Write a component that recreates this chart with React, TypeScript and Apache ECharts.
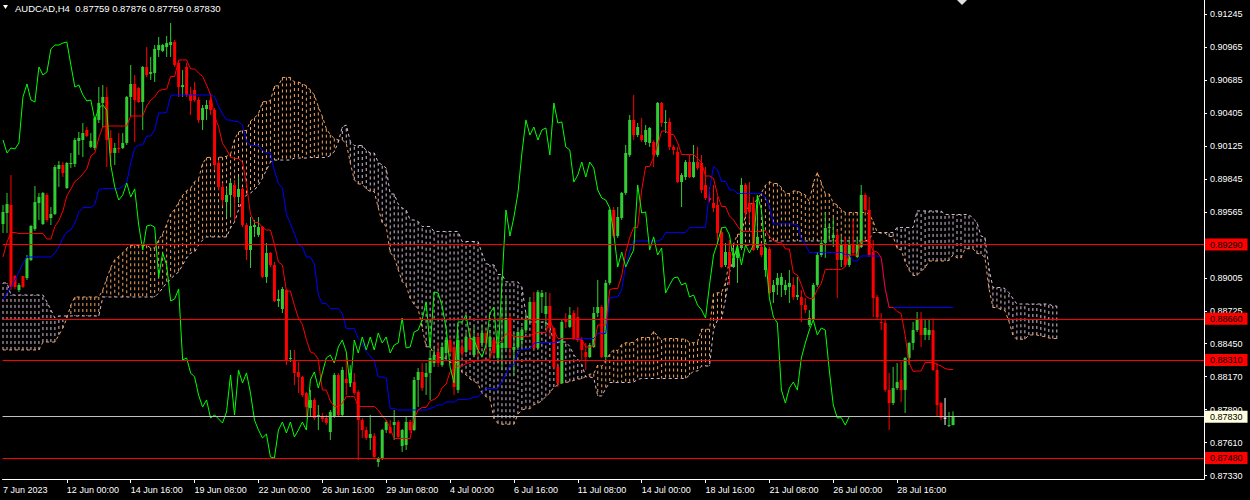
import React, { useEffect, useRef } from "react";
import * as echarts from "echarts";

// AUDCAD H4 candles, oldest first (bar index 0 = 7 Jun 2023 16:00)
const opens = [
  0.89464, 0.89557, 0.89625, 0.89023, 0.88904, 0.89023, 0.89006, 0.89159, 0.89421, 0.89642,
  0.89464, 0.8971, 0.89515, 0.89549, 0.8993, 0.89964, 0.89769, 0.89973, 0.89973, 0.90168,
  0.90176, 0.90261, 0.90117, 0.90108, 0.90346, 0.9049, 0.90541, 0.90193, 0.90066, 0.90108,
  0.90108, 0.90151, 0.90541, 0.90651, 0.90617, 0.90498, 0.90795, 0.90736, 0.90744, 0.90939,
  0.90931, 0.90964, 0.90981, 0.91007, 0.90829, 0.90625, 0.90795, 0.90566, 0.906, 0.90515,
  0.90346, 0.90439, 0.90515, 0.9043, 0.89981, 0.89778, 0.8965, 0.8971, 0.89795, 0.89693,
  0.89761, 0.89455, 0.89243, 0.89438, 0.89371, 0.89438, 0.89015, 0.89218, 0.89116, 0.88811,
  0.88743, 0.88904, 0.88319, 0.88311, 0.88209, 0.88167, 0.88031, 0.87904, 0.87972, 0.87828,
  0.87828, 0.87819, 0.877, 0.87828, 0.88184, 0.87845, 0.8815, 0.88116, 0.88124, 0.8804,
  0.87802, 0.87717, 0.8765, 0.87667, 0.87446, 0.87471, 0.87717, 0.87743, 0.8776, 0.87785,
  0.87582, 0.8759, 0.87785, 0.87717, 0.88141, 0.88209, 0.88167, 0.88201, 0.88285, 0.88379,
  0.88268, 0.8837, 0.8848, 0.88421, 0.88057, 0.88421, 0.88379, 0.88497, 0.88353, 0.88506,
  0.88455, 0.8854, 0.88421, 0.8848, 0.88328, 0.88413, 0.88413, 0.88667, 0.88396, 0.88421,
  0.8848, 0.88565, 0.8865, 0.88803, 0.88413, 0.88845, 0.88701, 0.88769, 0.88582, 0.88252,
  0.88116, 0.8865, 0.88591, 0.88709, 0.88675, 0.8848, 0.88379, 0.88336, 0.88421, 0.88709,
  0.8876, 0.88336, 0.88964, 0.89583, 0.89362, 0.89515, 0.89727, 0.90049, 0.90346, 0.90218,
  0.90218, 0.90159, 0.90151, 0.90159, 0.90049, 0.9049, 0.9032, 0.90329, 0.90117, 0.90074,
  0.8982, 0.89862, 0.89989, 0.89862, 0.89989, 0.89981, 0.89795, 0.89684, 0.89642, 0.89625,
  0.89396, 0.89116, 0.89226, 0.89099, 0.89176, 0.8926, 0.89795, 0.89642, 0.89642, 0.8926,
  0.89269, 0.89074, 0.89252, 0.88887, 0.88947, 0.88947, 0.88904, 0.8893, 0.88947, 0.88845,
  0.88845, 0.88777, 0.88608, 0.8865, 0.88947, 0.89201, 0.89303, 0.8943, 0.89345, 0.89371,
  0.89159, 0.89286, 0.89116, 0.89286, 0.89184, 0.89269, 0.8971, 0.89583, 0.89226, 0.88845,
  0.88633, 0.88625, 0.88057, 0.87946, 0.88073, 0.88141, 0.88057, 0.88328, 0.88455, 0.88565,
  0.8865, 0.88523, 0.88523, 0.88565, 0.88226, 0.87946, 0.87822, 0.87752, 0.87759,
];
const highs = [
  0.89625, 0.89727, 0.89879, 0.89031, 0.88964, 0.89023, 0.89201, 0.89455, 0.89786, 0.89727,
  0.89735, 0.89727, 0.89608, 0.89964, 0.89998, 0.89989, 0.89989, 0.90066, 0.90193, 0.90244,
  0.9032, 0.90286, 0.90235, 0.90371, 0.90625, 0.90642, 0.90625, 0.90261, 0.90151, 0.90235,
  0.90235, 0.90549, 0.90812, 0.90727, 0.90625, 0.90803, 0.90964, 0.9088, 0.90981, 0.91049,
  0.9099, 0.91058, 0.91168, 0.91024, 0.90854, 0.90769, 0.90829, 0.90625, 0.90668, 0.90541,
  0.90473, 0.90515, 0.90541, 0.90447, 0.90006, 0.89811, 0.89769, 0.89837, 0.89837, 0.89862,
  0.89778, 0.89472, 0.89523, 0.89498, 0.89523, 0.89447, 0.89303, 0.89226, 0.89142, 0.88904,
  0.8893, 0.88913, 0.88396, 0.88396, 0.88294, 0.88175, 0.8804, 0.88057, 0.87989, 0.87929,
  0.87862, 0.87845, 0.87887, 0.88201, 0.88201, 0.88252, 0.8837, 0.88268, 0.88201, 0.88057,
  0.87819, 0.87743, 0.87845, 0.87692, 0.87488, 0.87726, 0.87802, 0.87802, 0.87887, 0.87802,
  0.87726, 0.87828, 0.87802, 0.88167, 0.88243, 0.88285, 0.88285, 0.88396, 0.88421, 0.88455,
  0.88455, 0.88506, 0.88506, 0.88455, 0.88548, 0.8848, 0.8854, 0.88565, 0.88591, 0.8854,
  0.88608, 0.88565, 0.88565, 0.88506, 0.8854, 0.88735, 0.88836, 0.88709, 0.8854, 0.88565,
  0.88591, 0.88709, 0.88845, 0.88887, 0.88904, 0.88904, 0.88887, 0.88879, 0.88591, 0.88285,
  0.8865, 0.88709, 0.8876, 0.88735, 0.8876, 0.88506, 0.88455, 0.88455, 0.8876, 0.88989,
  0.88777, 0.88989, 0.89591, 0.89608, 0.89608, 0.89735, 0.90134, 0.90388, 0.90558, 0.9032,
  0.90363, 0.90303, 0.90286, 0.90176, 0.90498, 0.90498, 0.9043, 0.90363, 0.90134, 0.90117,
  0.89896, 0.90006, 0.90049, 0.90134, 0.90117, 0.90049, 0.89947, 0.89777, 0.89795, 0.89693,
  0.89438, 0.89303, 0.89328, 0.89269, 0.89269, 0.89854, 0.89811, 0.8982, 0.89693, 0.8971,
  0.89303, 0.89269, 0.89269, 0.88989, 0.89048, 0.89048, 0.88989, 0.89074, 0.89015, 0.89015,
  0.88904, 0.88836, 0.88735, 0.88964, 0.89226, 0.89328, 0.89566, 0.89472, 0.89515, 0.89413,
  0.89354, 0.89354, 0.89328, 0.89498, 0.89354, 0.89795, 0.89727, 0.89693, 0.89328, 0.88862,
  0.88709, 0.8865, 0.88201, 0.88252, 0.88285, 0.88294, 0.88336, 0.88463, 0.88633, 0.88718,
  0.88718, 0.8865, 0.8865, 0.88667, 0.88285, 0.87955, 0.87989, 0.8787, 0.87876,
];
const lows = [
  0.89388, 0.89388, 0.88904, 0.88913, 0.88887, 0.88921, 0.88989, 0.8915, 0.89405, 0.89498,
  0.89455, 0.89481, 0.89455, 0.8954, 0.89778, 0.89862, 0.89761, 0.89939, 0.89947, 0.90049,
  0.90032, 0.90201, 0.90108, 0.90091, 0.9032, 0.90278, 0.89947, 0.89947, 0.89964, 0.90066,
  0.901, 0.90134, 0.90371, 0.90159, 0.9049, 0.90261, 0.9071, 0.90685, 0.90668, 0.9088,
  0.90922, 0.9088, 0.9088, 0.90795, 0.90541, 0.90541, 0.90541, 0.90388, 0.90498, 0.9032,
  0.90261, 0.90346, 0.90388, 0.89922, 0.89752, 0.89625, 0.89523, 0.89523, 0.89498, 0.89642,
  0.89438, 0.89159, 0.89091, 0.89354, 0.89354, 0.89006, 0.88964, 0.89099, 0.88803, 0.8876,
  0.88709, 0.88268, 0.88294, 0.88099, 0.88031, 0.87997, 0.87828, 0.87828, 0.87802, 0.87717,
  0.87785, 0.8776, 0.87633, 0.8782, 0.87828, 0.87828, 0.88014, 0.88107, 0.88014, 0.87463,
  0.8765, 0.87633, 0.87548, 0.8748, 0.87404, 0.87463, 0.87692, 0.87683, 0.87633, 0.8765,
  0.87531, 0.87548, 0.87692, 0.87709, 0.87912, 0.88048, 0.88014, 0.87972, 0.88252, 0.88252,
  0.88252, 0.88311, 0.88353, 0.88014, 0.88031, 0.88336, 0.8837, 0.8837, 0.88336, 0.88336,
  0.88421, 0.8837, 0.88328, 0.88336, 0.88285, 0.88226, 0.88396, 0.88336, 0.88184, 0.88396,
  0.88421, 0.8854, 0.88625, 0.88396, 0.88396, 0.88709, 0.88591, 0.88506, 0.88226, 0.88082,
  0.88107, 0.88582, 0.88582, 0.8848, 0.88463, 0.88311, 0.88226, 0.88328, 0.88413, 0.88675,
  0.88328, 0.88311, 0.88947, 0.89345, 0.89345, 0.89498, 0.8971, 0.90032, 0.90176, 0.90201,
  0.90159, 0.90134, 0.90117, 0.89947, 0.90032, 0.90286, 0.90235, 0.90091, 0.90049, 0.89811,
  0.89608, 0.89837, 0.89854, 0.89854, 0.89922, 0.89727, 0.89667, 0.8965, 0.89566, 0.89286,
  0.89091, 0.89099, 0.88947, 0.89091, 0.88964, 0.89243, 0.89523, 0.89472, 0.89235, 0.89243,
  0.89184, 0.89015, 0.88862, 0.88794, 0.88862, 0.88845, 0.88862, 0.88794, 0.8882, 0.8882,
  0.88633, 0.88709, 0.88591, 0.88641, 0.8893, 0.89184, 0.89176, 0.89328, 0.89269, 0.88836,
  0.89099, 0.89099, 0.89099, 0.89201, 0.89176, 0.8926, 0.89557, 0.89184, 0.88675, 0.88658,
  0.88565, 0.8804, 0.87717, 0.87929, 0.88057, 0.87955, 0.87862, 0.88268, 0.88396, 0.88548,
  0.88421, 0.8848, 0.8848, 0.88218, 0.87828, 0.87802, 0.8776, 0.87742, 0.87759,
];
const closes = [
  0.89566, 0.89633, 0.8893, 0.8893, 0.88947, 0.8893, 0.89176, 0.89447, 0.8965, 0.89693,
  0.89727, 0.89498, 0.89549, 0.89947, 0.89964, 0.89896, 0.89981, 0.89981, 0.90176, 0.90193,
  0.90235, 0.9021, 0.90168, 0.90363, 0.9049, 0.90541, 0.90176, 0.90066, 0.90108, 0.901,
  0.90151, 0.90541, 0.90651, 0.90515, 0.90498, 0.90795, 0.90727, 0.90752, 0.90948, 0.90981,
  0.90981, 0.90998, 0.91007, 0.90812, 0.90625, 0.90642, 0.90558, 0.90507, 0.90515, 0.90346,
  0.90447, 0.90473, 0.9043, 0.89964, 0.89778, 0.89667, 0.8971, 0.89811, 0.89693, 0.89761,
  0.89455, 0.89243, 0.89447, 0.89455, 0.89438, 0.89015, 0.89218, 0.89116, 0.88811, 0.88828,
  0.88913, 0.88311, 0.88328, 0.88201, 0.88167, 0.88014, 0.87912, 0.87972, 0.87819, 0.87845,
  0.87811, 0.87777, 0.8787, 0.88184, 0.87845, 0.88226, 0.88116, 0.88201, 0.88031, 0.87802,
  0.87717, 0.8765, 0.87683, 0.87488, 0.8748, 0.87717, 0.87785, 0.87692, 0.87785, 0.87658,
  0.87717, 0.87785, 0.87717, 0.88141, 0.88209, 0.88073, 0.88201, 0.88328, 0.88353, 0.88285,
  0.88421, 0.8848, 0.88379, 0.88082, 0.8848, 0.8837, 0.88506, 0.88396, 0.88506, 0.88396,
  0.8854, 0.88455, 0.88506, 0.8837, 0.88438, 0.88455, 0.88667, 0.88413, 0.88421, 0.88548,
  0.88565, 0.8865, 0.88803, 0.88413, 0.88887, 0.88879, 0.88769, 0.88582, 0.88252, 0.88116,
  0.88633, 0.88633, 0.88692, 0.88497, 0.8848, 0.88396, 0.88336, 0.88438, 0.88709, 0.8876,
  0.88336, 0.88964, 0.89583, 0.89362, 0.89523, 0.89727, 0.90066, 0.90346, 0.90218, 0.90286,
  0.90176, 0.90261, 0.90278, 0.90049, 0.9049, 0.9032, 0.90329, 0.90117, 0.90091, 0.8982,
  0.89879, 0.89989, 0.89862, 0.89989, 0.89939, 0.89752, 0.89684, 0.89667, 0.896, 0.89388,
  0.89099, 0.89226, 0.89099, 0.89176, 0.89243, 0.89795, 0.89557, 0.89566, 0.89243, 0.89354,
  0.89201, 0.8926, 0.88879, 0.88947, 0.89006, 0.89015, 0.88947, 0.88964, 0.88845, 0.88862,
  0.88777, 0.88735, 0.88667, 0.88947, 0.89201, 0.89303, 0.8943, 0.89438, 0.89371, 0.89159,
  0.89286, 0.89116, 0.89286, 0.89218, 0.89286, 0.8971, 0.89583, 0.89201, 0.88836, 0.88675,
  0.88625, 0.88057, 0.87946, 0.88073, 0.88124, 0.88057, 0.88328, 0.88455, 0.88565, 0.8865,
  0.88523, 0.88582, 0.88565, 0.88226, 0.87929, 0.87819, 0.87822, 0.87759, 0.8783,
];

// Indicator values at the left edge, where the 9/26/52 windows reach back before bar 0
const tenkanHead = [0.89184, 0.89311];
const kijunHead = [
  0.8882, 0.88879, 0.8893, 0.88989, 0.89057, 0.89133, 0.89184, 0.89184, 0.89184, 0.89184,
  0.89184, 0.89184, 0.89184, 0.89218, 0.89269, 0.89345, 0.89396, 0.89413, 0.89472,
];
const senkouAHead = [
  0.88396, 0.88396, 0.88396, 0.88396, 0.88396, 0.88396, 0.88396, 0.88396, 0.88396, 0.88396,
  0.88463, 0.88463, 0.88463, 0.88463, 0.88523, 0.88582, 0.88667, 0.88777, 0.88845, 0.88845,
  0.88845, 0.88845, 0.88845, 0.88845, 0.88845, 0.88904,
];
const senkouBHead = [
  0.88964, 0.88964, 0.88862, 0.88862, 0.88862, 0.88862, 0.88862, 0.88862, 0.88862, 0.88862,
  0.88862, 0.88803, 0.88735, 0.88667, 0.88684, 0.88684, 0.88684, 0.88684, 0.88684, 0.88684,
  0.88684, 0.88684, 0.88684, 0.88684, 0.88684, 0.88845, 0.88845, 0.88845, 0.88845, 0.88845,
  0.88845, 0.88845, 0.88845, 0.88845, 0.88845, 0.88845, 0.88845, 0.88845, 0.88845, 0.88879,
  0.88921, 0.88964, 0.88998, 0.89031, 0.89057, 0.89116, 0.89176, 0.89218, 0.89226, 0.89286,
  0.89328, 0.89354, 0.89354, 0.89354, 0.89354, 0.89354, 0.89354, 0.8943, 0.89481, 0.89583,
  0.89667, 0.8971, 0.89727, 0.89752, 0.89795, 0.89854, 0.89922, 0.89989, 0.90006, 0.90006,
  0.90006, 0.90006, 0.90006, 0.90023, 0.90023, 0.90023, 0.90023,
];

const timeTicks = [0, 16, 32, 48, 64, 80, 96, 112, 128, 144, 160, 176, 192, 208, 224];
const timeLabels = [
  "7 Jun 2023", "12 Jun 00:00", "14 Jun 16:00", "19 Jun 08:00", "22 Jun 00:00",
  "26 Jun 16:00", "29 Jun 08:00", "4 Jul 00:00", "6 Jul 16:00", "11 Jul 08:00",
  "14 Jul 00:00", "18 Jul 16:00", "21 Jul 08:00", "26 Jul 00:00", "28 Jul 16:00",
];
const priceTicks = [
  0.91245, 0.90965, 0.90685, 0.90405, 0.90125, 0.89845, 0.89565, 0.89005, 0.88725, 0.8845,
  0.8817, 0.8789, 0.8761, 0.8733,
];
const priceTickLabels = [
  "0.91245", "0.90965", "0.90685", "0.90405", "0.90125", "0.89845", "0.89565", "0.89005",
  "0.88725", "0.88450", "0.88170", "0.87890", "0.87610", "0.87330",
];
const levelLines = [0.8929, 0.8866, 0.8831, 0.8748];
const bidPrice = 0.8783;
const symbolTitle = "AUDCAD,H4";

const BULL = "#32CD32";
const BEAR = "#FF0000";
const DOJI = "#FFFFFF";
const TENKAN = "#FF0000";
const KIJUN = "#0000FF";
const CHIKOU = "#00FF00";
const SPAN_A = "#F4A460";
const SPAN_B = "#D8BFD8";
const FONT = "'Liberation Sans', Arial, sans-serif";

const PRICE_MIN = 0.873019;
const PRICE_MAX = 0.913629;
const SLOT_MIN = -0.125;
const SLOT_MAX = 300.875;
const SHIFT = 26;

function rangeMid(from: number, to: number) {
  let hh = -Infinity;
  let ll = Infinity;
  for (let i = Math.max(0, from); i <= to; i++) {
    if (highs[i] > hh) hh = highs[i];
    if (lows[i] < ll) ll = lows[i];
  }
  return (hh + ll) / 2;
}

function buildIchimoku() {
  const n = closes.length;
  const tenkan: number[] = [];
  const kijun: number[] = [];
  for (let k = 0; k < n; k++) {
    tenkan.push(k < tenkanHead.length ? tenkanHead[k] : rangeMid(k - 8, k));
    kijun.push(k < kijunHead.length ? kijunHead[k] : rangeMid(k - 25, k));
  }
  const spanA: number[] = [];
  const spanB: number[] = [];
  for (let s = 0; s < n + SHIFT; s++) {
    spanA.push(s < senkouAHead.length ? senkouAHead[s] : (tenkan[s - SHIFT] + kijun[s - SHIFT]) / 2);
    spanB.push(s < senkouBHead.length ? senkouBHead[s] : rangeMid(s - SHIFT - 51, s - SHIFT));
  }
  const chikou: number[][] = [];
  for (let j = 0; j + SHIFT < n; j++) chikou.push([j, closes[j + SHIFT]]);
  return { tenkan, kijun, spanA, spanB, chikou };
}

function buildOption() {
  const n = closes.length;
  const ichi = buildIchimoku();
  const candleData = closes.map((c, k) => [k, opens[k], highs[k], lows[k], c]);
  const cloudData = ichi.spanA.map((a, s) => [s, a, ichi.spanB[s]]);
  const title = `${symbolTitle}  ${opens[n - 1].toFixed(5)} ${highs[n - 1].toFixed(5)} ${lows[n - 1].toFixed(5)} ${closes[n - 1].toFixed(5)}`;

  const lineSeries = (name: string, data: number[][], color: string, z: number, dash?: number[]) => ({
    name,
    type: "line",
    data,
    z,
    silent: true,
    showSymbol: false,
    symbol: "none",
    clip: true,
    lineStyle: { color, width: 1, type: dash ? dash : "solid" },
  });

  return {
    animation: false,
    backgroundColor: "#000000",
    grid: { left: 0, right: 46, top: 0, bottom: 21, containLabel: false },
    xAxis: {
      type: "value",
      min: SLOT_MIN,
      max: SLOT_MAX,
      axisLine: { show: true, onZero: false, lineStyle: { color: "#FFFFFF", width: 1 } },
      axisTick: {
        show: true,
        length: 4,
        customValues: timeTicks.slice(1),
        lineStyle: { color: "#FFFFFF", width: 1 },
      },
      axisLabel: {
        show: true,
        customValues: timeTicks,
        formatter: (v: number) => {
          const i = timeTicks.indexOf(Math.round(v));
          return i >= 0 ? timeLabels[i] : "";
        },
        color: "#FFFFFF",
        fontFamily: FONT,
        fontSize: 9,
        align: "left",
        margin: 6,
      },
      splitLine: { show: false },
    },
    yAxis: {
      type: "value",
      position: "right",
      min: PRICE_MIN,
      max: PRICE_MAX,
      axisLine: { show: true, onZero: false, lineStyle: { color: "#FFFFFF", width: 1 } },
      axisTick: {
        show: true,
        length: 3,
        customValues: priceTicks,
        lineStyle: { color: "#FFFFFF", width: 1 },
      },
      axisLabel: {
        show: true,
        customValues: priceTicks,
        formatter: (v: number) => {
          const i = priceTicks.findIndex((p) => Math.abs(p - v) < 1e-7);
          return i >= 0 ? priceTickLabels[i] : "";
        },
        color: "#FFFFFF",
        fontFamily: FONT,
        fontSize: 9,
        margin: 6,
      },
      splitLine: { show: false },
    },
    graphic: [
      { type: "polygon", shape: { points: [[3, 5], [8, 5], [5.5, 9]] }, style: { fill: "#FFFFFF" }, z: 100 },
      {
        type: "text",
        left: 15,
        top: 3,
        style: { text: title, fill: "#FFFFFF", font: `9.5px ${FONT}` },
        z: 100,
      },
      { type: "polygon", shape: { points: [[957, 0], [967, 0], [962, 5]] }, style: { fill: "#E0E0E0" }, z: 100 },
    ],
    series: [
      {
        name: "Kumo",
        type: "custom",
        data: cloudData,
        encode: { x: 0, y: [1, 2] },
        z: 1,
        silent: true,
        renderItem: (_p: any, api: any) => {
          const s = api.value(0);
          const a = api.value(1);
          const b = api.value(2);
          const pa = api.coord([s, a]);
          const pb = api.coord([s, b]);
          return {
            type: "line",
            shape: { x1: pa[0], y1: pa[1], x2: pb[0], y2: pb[1] },
            style: { stroke: a >= b ? SPAN_A : SPAN_B, lineWidth: 1, lineDash: [3, 3] },
          };
        },
      },
      lineSeries("Senkou Span A", ichi.spanA.map((v, s) => [s, v]), SPAN_A, 2, [3, 3]),
      lineSeries("Senkou Span B", ichi.spanB.map((v, s) => [s, v]), SPAN_B, 2, [3, 3]),
      {
        name: "AUDCAD",
        type: "custom",
        data: candleData,
        encode: { x: 0, y: [1, 2, 3, 4] },
        z: 3,
        silent: true,
        renderItem: (_p: any, api: any) => {
          const k = api.value(0);
          const o = api.value(1);
          const h = api.value(2);
          const l = api.value(3);
          const c = api.value(4);
          const ph = api.coord([k, h]);
          const pl = api.coord([k, l]);
          const po = api.coord([k, o]);
          const pc = api.coord([k, c]);
          const color = c > o ? BULL : c < o ? BEAR : DOJI;
          const x = ph[0];
          const top = Math.min(po[1], pc[1]);
          const bottom = Math.max(po[1], pc[1]);
          return {
            type: "group",
            children: [
              { type: "line", shape: { x1: x, y1: ph[1], x2: x, y2: pl[1] }, style: { stroke: color, lineWidth: 1 } },
              {
                type: "rect",
                shape: { x: x - 1.5, y: top, width: 3, height: Math.max(1, bottom - top) },
                style: { fill: color },
              },
            ],
          };
        },
      },
      lineSeries("Kijun-sen", ichi.kijun.map((v, k) => [k, v]), KIJUN, 4),
      lineSeries("Tenkan-sen", ichi.tenkan.map((v, k) => [k, v]), TENKAN, 4),
      lineSeries("Chikou Span", ichi.chikou, CHIKOU, 4),
      {
        name: "Levels",
        type: "line",
        data: [],
        z: 5,
        silent: true,
        markLine: {
          silent: true,
          symbol: "none",
          animation: false,
          precision: 5,
          data: [
            ...levelLines.map((v) => ({
              yAxis: v,
              lineStyle: { color: "#FF0000", width: 1, type: "solid" },
              label: { backgroundColor: "#FF0000", color: "#000000" },
            })),
            {
              yAxis: bidPrice,
              lineStyle: { color: "#C0C0C0", width: 1, type: "solid" },
              label: { backgroundColor: "#FFFFE0", color: "#000000" },
            },
          ],
          label: {
            show: true,
            position: "end",
            distance: 1,
            formatter: (p: any) => Number(p.value).toFixed(5),
            fontFamily: FONT,
            fontSize: 9,
            padding: [2, 5, 1, 5],
          },
        },
      },
    ],
  };
}

export default function App() {
  const ref = useRef<HTMLDivElement>(null);
  useEffect(() => {
    if (!ref.current) return;
    const chart = echarts.init(ref.current, null, { renderer: "svg" });
    chart.setOption(buildOption() as any);
    return () => chart.dispose();
  }, []);
  return (
    <div
      ref={ref}
      style={{ position: "fixed", left: 0, top: 0, width: 1250, height: 500, background: "#000000" }}
    />
  );
}
